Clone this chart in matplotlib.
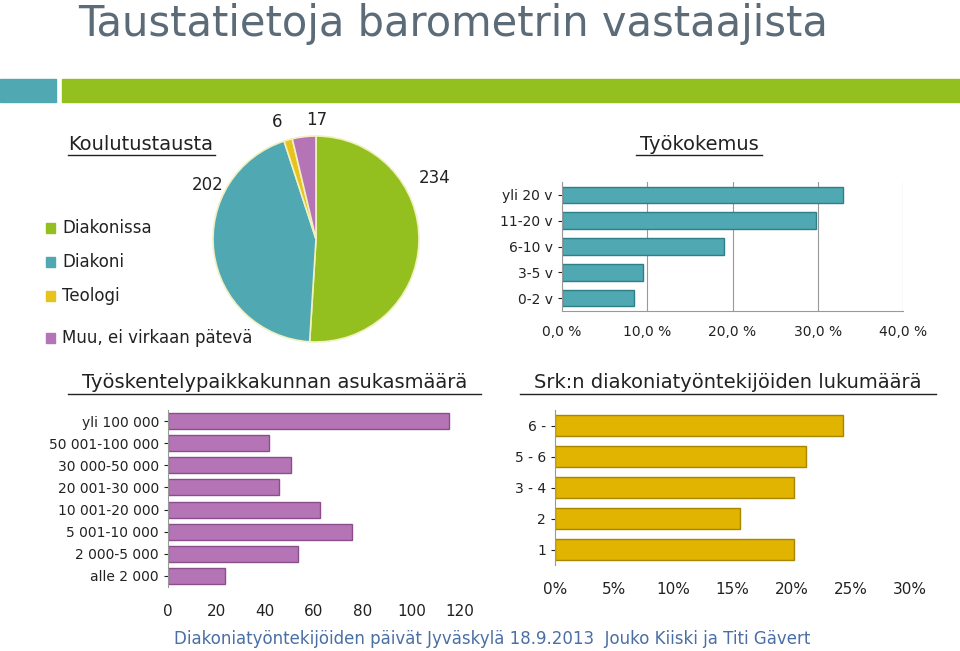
import matplotlib
matplotlib.use("Agg")
import matplotlib.pyplot as plt
from matplotlib.ticker import FuncFormatter

pie_labels = ["Diakonissa", "Diakoni", "Teologi", "Muu, ei virkaan pätevä"]
pie_values = [234, 202, 6, 17]
exp_cats = ["0-2 v", "3-5 v", "6-10 v", "11-20 v", "yli 20 v"]
exp_vals = [8.5, 9.5, 19.0, 29.8, 33.0]
pop_cats = ["alle 2 000", "2 000-5 000", "5 001-10 000", "10 001-20 000",
            "20 001-30 000", "30 000-50 000", "50 001-100 000", "yli 100 000"]
pop_vals = [23.5, 53.5, 75.7, 62.5, 45.7, 50.6, 41.5, 115.6]
srk_cats = ["1", "2", "3 - 4", "5 - 6", "6 -"]
srk_vals = [20.2, 15.6, 20.2, 21.2, 24.3]

W, H = 960, 651
fig = plt.figure(figsize=(9.6, 6.51), dpi=100)
plt.rcParams["font.family"] = "DejaVu Sans"

def ax_px(x0, y0, x1, y1):
    return fig.add_axes([x0 / W, 1 - y1 / H, (x1 - x0) / W, (y1 - y0) / H])

def T(x, y, s, **kw):
    fig.text(x / W, 1 - y / H, s, **kw)

T(78, 24, "Taustatietoja barometrin vastaajista", fontsize=30, color="#5c6b78", va="center")
fig.patches.append(plt.Rectangle((0, 1 - 102 / H), 56 / W, 23 / H, transform=fig.transFigure, color="#4fa8b2"))
fig.patches.append(plt.Rectangle((62 / W, 1 - 102 / H), 898 / W, 23 / H, transform=fig.transFigure, color="#93c01f"))

pie_colors = ["#93c01f", "#4fa8b2", "#e8c31c", "#b574b6"]
axp = ax_px(212, 135, 420, 343)
axp.pie(pie_values, colors=pie_colors, startangle=90, counterclock=False,
        wedgeprops=dict(edgecolor="#f0f0c0", linewidth=1.2))
axp.set_xlim(-1.01, 1.01)
axp.set_ylim(-1.01, 1.01)
axp.set_aspect("equal")
T(68, 144, "Koulutustausta", fontsize=14, color="#222", va="center")
fig.lines.append(plt.Line2D([68 / W, 215 / W], [1 - 155 / H] * 2, transform=fig.transFigure, color="#222", lw=1))
for (x, y), v in zip([(435, 178), (208, 185), (277, 122), (317, 120)], pie_values):
    T(x, y, str(v), fontsize=12, color="#222", ha="center", va="center")
for i, (lab, c) in enumerate(zip(pie_labels, pie_colors)):
    y = 228 + i * 34 + (8 if i == 3 else 0)
    fig.patches.append(plt.Rectangle((46 / W, 1 - (y + 5) / H), 9 / W, 10 / H, transform=fig.transFigure, color=c))
    T(62, y, lab, fontsize=12, color="#222", va="center")

def style(ax):
    for s in ["top", "right"]:
        ax.spines[s].set_visible(False)
    ax.spines["left"].set_color("#999")
    ax.spines["bottom"].set_color("#999")
    ax.tick_params(colors="#222", labelsize=10, length=3)

ax1 = ax_px(562, 182, 903, 311)
ax1.barh(range(len(exp_cats)), exp_vals, height=0.65, color="#4fa8b2", edgecolor="#2f7f88")
ax1.set_yticks(range(len(exp_cats)), exp_cats)
ax1.set_xlim(0, 40)
ax1.set_xticks([0, 10, 20, 30, 40])
ax1.xaxis.set_major_formatter(FuncFormatter(lambda v, p: f"{v:.1f} %".replace(".", ",")))
ax1.grid(axis="x", color="#999", lw=0.8)
ax1.set_axisbelow(True)
ax1.set_ylim(-0.5, 4.5)
style(ax1)
ax1.tick_params(axis="x", length=0, pad=10)
T(699, 144, "Työkokemus", fontsize=14, color="#222", ha="center", va="center")
fig.lines.append(plt.Line2D([636 / W, 762 / W], [1 - 155 / H] * 2, transform=fig.transFigure, color="#222", lw=1))

ax2 = ax_px(168, 410, 460, 587)
ax2.barh(range(len(pop_cats)), pop_vals, height=0.72, color="#b574b6", edgecolor="#8a4f8b")
ax2.set_yticks(range(len(pop_cats)), pop_cats)
ax2.set_xlim(0, 120)
ax2.set_xticks(range(0, 121, 20))
ax2.set_ylim(-0.5, 7.5)
style(ax2)
ax2.spines["bottom"].set_visible(False)
ax2.tick_params(axis="x", length=0, pad=12, labelsize=11)
T(275, 383, "Työskentelypaikkakunnan asukasmäärä", fontsize=14, color="#222", ha="center", va="center")
fig.lines.append(plt.Line2D([68 / W, 481 / W], [1 - 394 / H] * 2, transform=fig.transFigure, color="#222", lw=1))

ax3 = ax_px(555, 410, 910, 565)
ax3.barh(range(len(srk_cats)), srk_vals, height=0.7, color="#e0b400", edgecolor="#a88600")
ax3.set_yticks(range(len(srk_cats)), srk_cats)
ax3.set_xlim(0, 30)
ax3.set_xticks(range(0, 31, 5))
ax3.xaxis.set_major_formatter(FuncFormatter(lambda v, p: f"{int(v)}%"))
ax3.set_ylim(-0.5, 4.5)
style(ax3)
ax3.spines["bottom"].set_visible(False)
ax3.tick_params(axis="x", length=0, pad=12, labelsize=11)
T(728, 383, "Srk:n diakoniatyöntekijöiden lukumäärä", fontsize=14, color="#222", ha="center", va="center")
fig.lines.append(plt.Line2D([520 / W, 936 / W], [1 - 394 / H] * 2, transform=fig.transFigure, color="#222", lw=1))

T(492, 639, "Diakoniatyöntekijöiden päivät Jyväskylä 18.9.2013  Jouko Kiiski ja Titi Gävert",
  fontsize=12, color="#4a6fa5", ha="center", va="center")

fig.savefig("out.png", dpi=100)
